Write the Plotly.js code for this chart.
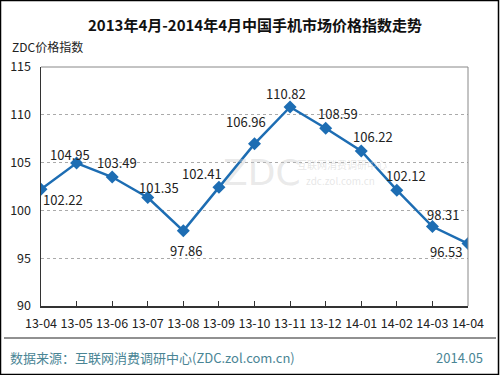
<!DOCTYPE html>
<html>
<head>
<meta charset="utf-8">
<script src="https://cdn.plot.ly/plotly-3.0.1.min.js"></script>
<style>html,body{margin:0;padding:0;background:#fff;}#chart{width:500px;height:375px;}</style>
</head>
<body>
<div id="chart"></div>
<script>
const months = ['13-04','13-05','13-06','13-07','13-08','13-09','13-10','13-11','13-12','14-01','14-02','14-03','14-04'];
const priceIndex = [102.22,104.95,103.49,101.35,97.86,102.41,106.96,110.82,108.59,106.22,102.12,98.31,96.53];
const yTicks = [90,95,100,105,110,115];

// label offsets (pixels) – styling only
const labelDx = [22,-7,5,11,3,-17,-9,-4,12,12,9,11,-22];
const labelDy = [-10,9,15,10,-20,14,22,13,15,14,15,12,-8];

const font = "'Noto Sans CJK SC', 'DejaVu Sans', sans-serif";

const trace = {
  type: 'scatter', mode: 'lines+markers',
  x: months, y: priceIndex,
  line: {color: '#1d6db3', width: 2.5},
  marker: {symbol: 'diamond', size: 10, color: '#1d6db3'},
  hoverinfo: 'skip'
};

const annotations = priceIndex.map((v,i) => ({
  x: months[i], y: v, xref: 'x', yref: 'y',
  text: v.toFixed(2), showarrow: false,
  xshift: labelDx[i], yshift: labelDy[i],
  font: {family: font, size: 13, color: '#222'}
}));

// helper to convert pixel coords to paper coords
const PL = 41, PR = 468, PT = 67, PB = 306;
const px = x => (x - PL) / (PR - PL);
const py = y => (PB - y) / (PB - PT);

annotations.push(
  {xref:'paper', yref:'paper', x: 0.5, y: 1.0, yanchor:'bottom', xanchor:'center', yshift: 30,
   text:'<b>2013年4月-2014年4月中国手机市场价格指数走势</b>', showarrow:false,
   font:{family:font, size:15, color:'#111'}},
  {xref:'paper', yref:'paper', x: 0, xshift: -31, y: 1.0, yshift: 10, yanchor:'bottom', xanchor:'left',
   text:'ZDC价格指数', showarrow:false, font:{family:font, size:12, color:'#222'}},
  {xref:'paper', yref:'paper', x: 0, xshift: -33, y: 0, yshift: -51, yanchor:'middle', xanchor:'left',
   text:'数据来源：互联网消费调研中心(ZDC.zol.com.cn)', showarrow:false,
   font:{family:font, size:13, color:'#4a8595'}},
  {xref:'paper', yref:'paper', x: 1, xshift: 17, y: 0, yshift: -51, yanchor:'middle', xanchor:'right',
   text:'2014.05', showarrow:false, font:{family:font, size:13, color:'#4a8595'}},
  {xref:'paper', yref:'paper', x: px(262), y: py(172), xanchor:'center', yanchor:'middle',
   text:'ZDC', showarrow:false, font:{family:'DejaVu Sans', size:36, color:'rgba(200,200,200,0.4)'}},
  {xref:'paper', yref:'paper', x: px(342), y: py(164), xanchor:'center', yanchor:'middle',
   text:'互联网消费调研中心', showarrow:false,
   font:{family:font, size:10, color:'rgba(200,200,200,0.45)'}},
  {xref:'paper', yref:'paper', x: px(340), y: py(180), xanchor:'center', yanchor:'middle',
   text:'zdc.zol.com.cn', showarrow:false,
   font:{family:font, size:10, color:'rgba(200,200,200,0.45)'}}
);

const layout = {
  width: 500, height: 375,
  margin: {l: 41, r: 32, t: 67, b: 69},
  paper_bgcolor: '#fff', plot_bgcolor: '#fff',
  showlegend: false,
  xaxis: {
    type: 'category', range: [0, months.length - 1],
    showline: true, linecolor: '#333', linewidth: 1.5,
    ticks: 'inside', ticklen: 5, tickcolor: '#333',
    showgrid: false, zeroline: false, ticklabelstandoff: 5,
    tickfont: {family: font, size: 12.5, color: '#222'},
    fixedrange: true
  },
  yaxis: {
    range: [90, 115], tickvals: yTicks,
    showline: true, linecolor: '#333', linewidth: 1.5,
    ticks: '', showgrid: true, gridcolor: '#aaa', griddash: 'dot', gridwidth: 1,
    zeroline: false, ticklabelstandoff: 6,
    tickfont: {family: font, size: 12.5, color: '#222'},
    fixedrange: true
  },
  shapes: [
    {type:'line', xref:'paper', yref:'paper', x0:0, x1:1, y0:1, y1:1, line:{color:'#888', width:1}},
    {type:'line', xref:'paper', yref:'paper', x0:1, x1:1, y0:0, y1:1, line:{color:'#888', width:1}},
    {type:'line', xref:'paper', yref:'paper', x0:-37/427, x1:1+28/427, y0:-32/239, y1:-32/239, line:{color:'#222', width:1}},
    {type:'rect', xref:'paper', yref:'paper', x0:-40.5/427, x1:1+30.5/427, y0:-68.5/239, y1:1+66.5/239, line:{color:'#000', width:1.5}}
  ],
  annotations: annotations
};

Plotly.newPlot('chart', [trace], layout, {staticPlot: true, displayModeBar: false});
</script>
</body>
</html>
